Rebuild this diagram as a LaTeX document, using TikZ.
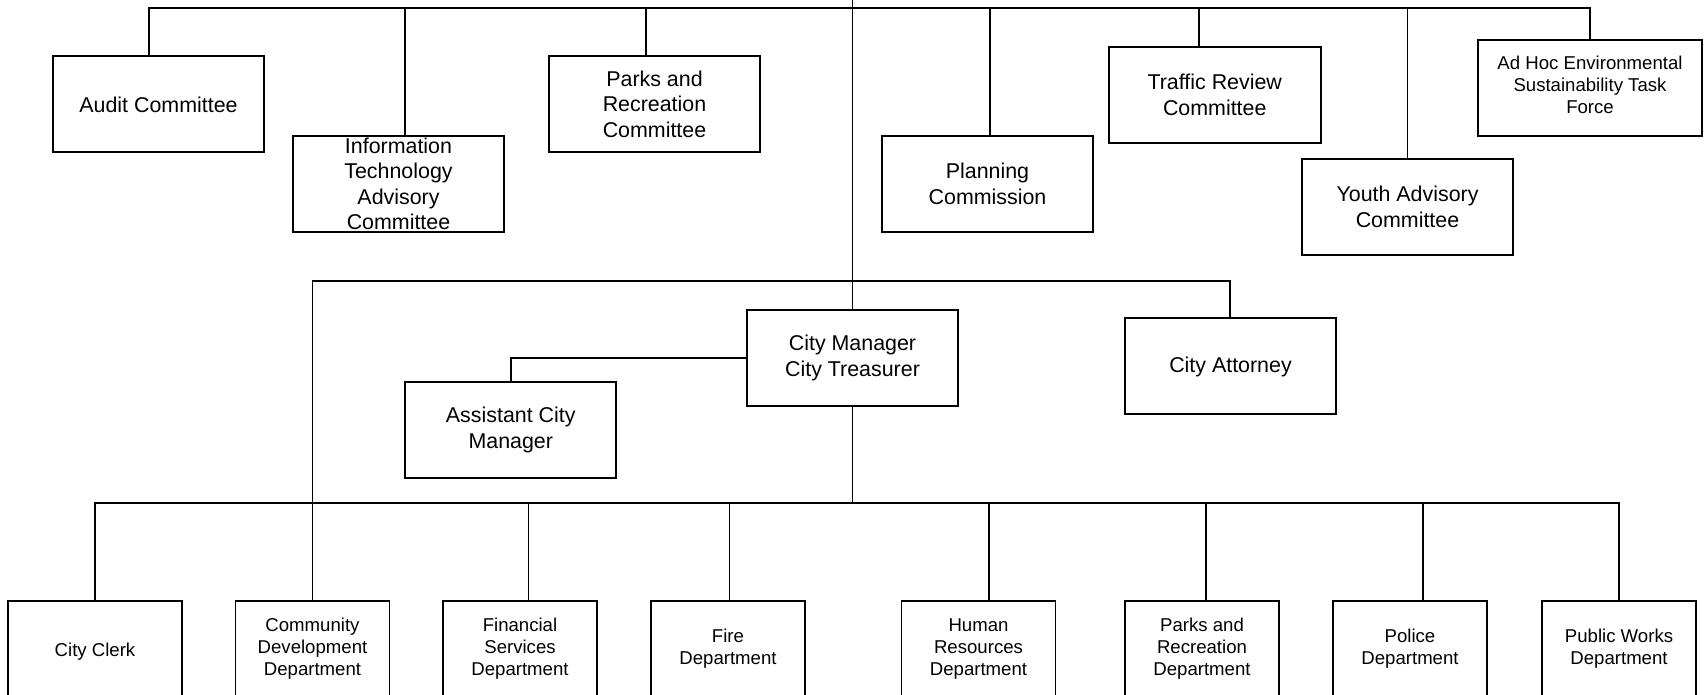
\documentclass[tikz,border=0pt]{standalone}
\usepackage{fontspec}
\setmainfont{Liberation Sans}
\usepackage{tikz}
\usetikzlibrary{positioning, calc}
\definecolor{ink}{HTML}{000000}
\newcommand{\bigtxt}{\fontsize{21.4}{25.5}\selectfont}
\newcommand{\smalltxt}{\fontsize{18.6}{22}\selectfont}

\begin{document}
\begin{tikzpicture}[x=1pt, y=-1pt, org/.style={draw=ink, line width=1.6pt, minimum width=211pt, minimum height=96pt, inner sep=0pt, align=center, font=\bigtxt, execute at begin node={\rule{0pt}{18pt}}}, dept/.style={org, minimum width=154pt, font=\smalltxt, execute at begin node={\rule{0pt}{16pt}}}, tight/.style={execute at begin node={}}, wire/.style={draw=ink, line width=1.6pt}]
\clip (0,0) rectangle (1704,694);
\fill[white] (0,0) rectangle (1704,694);
\coordinate (ctop) at (852.5,0); \coordinate (cbus) at (852.5,8); \coordinate (mbus) at (852.5,281); \coordinate (dbus) at (852.5,503);
\node[org] (audit) at (158.5,104) {Audit Committee};
\node[org, tight] (itc) at (398.5,184) {Information\\Technology\\Advisory\\Committee};
\node[org] (parks) at (654.5,104) {Parks and\\Recreation\\Committee};
\node[org] (plan) at (987.5,184) {Planning\\Commission};
\node[org, minimum width=212pt] (traffic) at (1214.75,95) {Traffic Review\\Committee};
\node[org] (youth) at (1407.5,207) {Youth Advisory\\Committee};
\node[org, tight, minimum width=224pt, font=\smalltxt, execute at end node={\rule[-6pt]{0pt}{0pt}}] (adhoc) at (1590,88) {Ad Hoc Environmental\\Sustainability Task\\Force};
\node[org] (cm) at (852.5,358) {City Manager\\City Treasurer};
\node[org] (asst) at (510.75,430) {Assistant City\\Manager};
\node[org] (atty) at (1230.5,366) {City Attorney};
\node[dept, minimum width=174pt] (clerk) at (95,649) {City Clerk};
\node[dept] (cd) at (312.5,649) {Community\\Development\\Department};
\node[dept] (fin) at (520,649) {Financial\\Services\\Department};
\node[dept] (fire) at (728,649) {Fire\\Department};
\node[dept] (hr) at (978.5,649) {Human\\Resources\\Department};
\node[dept] (pkd) at (1202,649) {Parks and\\Recreation\\Department};
\node[dept] (pol) at (1410,649) {Police\\Department};
\node[dept] (pw) at (1619,649) {Public Works\\Department};
\draw[wire] (ctop) -- (cm.north);
\draw[wire] ([xshift=-9.5pt]audit.north) |- (cbus); \draw[wire] ([xshift=6.5pt]itc.north) |- (cbus); \draw[wire] ([xshift=-8.5pt]parks.north) |- (cbus); \draw[wire] ([xshift=2.5pt]plan.north) |- (cbus);
\draw[wire] ([xshift=-16pt]traffic.north) |- (cbus); \draw[wire] (youth.north) |- (cbus); \draw[wire] (adhoc.north) |- (cbus);
\draw[wire] (cd.north) |- (mbus); \draw[wire] ([xshift=-0.5pt]atty.north) |- (mbus);
\draw[wire] (cm.west) -| (asst.north); \draw[wire] (cm.south) -- (dbus);
\draw[wire] (clerk.north) |- (dbus); \draw[wire] ([xshift=8.5pt]fin.north) |- (dbus); \draw[wire] ([xshift=1.5pt]fire.north) |- (dbus);
\draw[wire] ([xshift=10.5pt]hr.north) |- (dbus); \draw[wire] ([xshift=4pt]pkd.north) |- (dbus); \draw[wire] ([xshift=13pt]pol.north) |- (dbus); \draw[wire] (pw.north) |- (dbus);
\end{tikzpicture}
\end{document}
